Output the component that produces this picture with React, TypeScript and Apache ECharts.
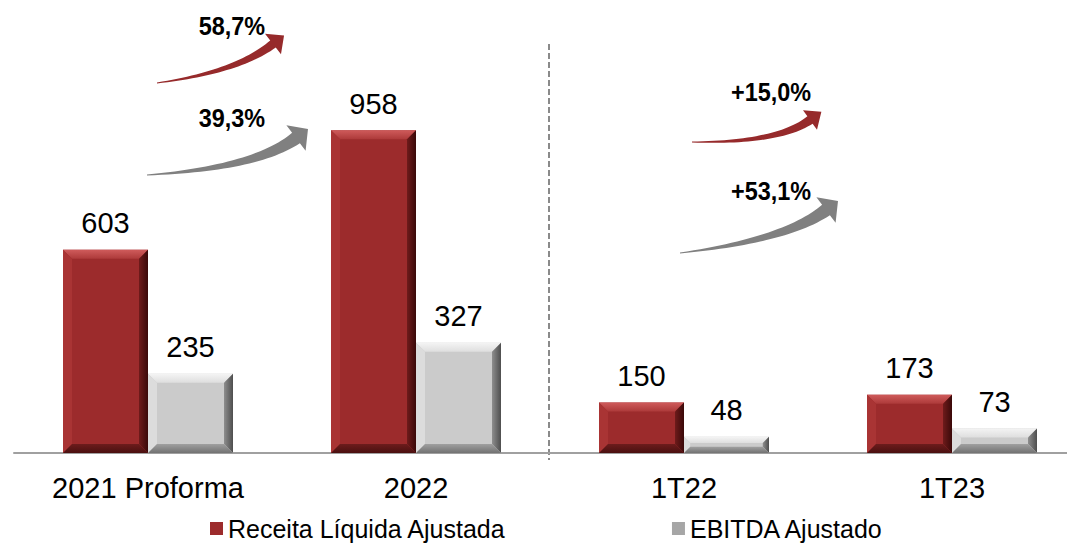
import React, { useEffect, useRef } from "react";
import * as echarts from "echarts";

const categories = ["2021 Proforma", "2022", "1T22", "1T23"];
const receita = [603, 958, 150, 173];
const ebitda = [235, 327, 48, 73];
const seriesNames = ["Receita Líquida Ajustada", "EBITDA Ajustado"];
const growthLabels = ["58,7%", "39,3%", "+15,0%", "+53,1%"];

const FONT = "'Liberation Sans', Arial, Helvetica, sans-serif";

type P = [number, number];

function lin(x2: number, y2: number, c0: string, c1: string) {
  return { type: "linear", x: 0, y: 0, x2, y2, colorStops: [{ offset: 0, color: c0 }, { offset: 1, color: c1 }], global: false };
}

const redPal = {
  face: "#9c2b2c",
  top: lin(0, 1, "#cf5b5b", "#ad3a3a"),
  left: "#a93434",
  right: lin(1, 0, "#6e1b1b", "#3a0909"),
  bottom: lin(0, 1, "#6d1c1c", "#4a1010"),
  legend: "#9c2b2c",
};
const greyPal = {
  face: "#cbcbcb",
  top: lin(0, 1, "#f4f4f4", "#dedede"),
  left: "#dcdcdc",
  right: lin(1, 0, "#8e8e8e", "#4e4e4e"),
  bottom: lin(0, 1, "#a0a0a0", "#727272"),
  legend: "#a6a6a6",
};

const BAR_W = 85;

function bevelRender(offset: number, pal: any) {
  return (params: any, api: any) => {
    const idx = api.value(0);
    const val = api.value(1);
    const base = api.coord([idx, 0]);
    const topPt = api.coord([idx, val]);
    const x = base[0] + offset;
    const w = BAR_W;
    const y0 = topPt[1];
    const y1 = base[1];
    const h = y1 - y0;
    const b = Math.min(9, h / 2.6, w / 2);
    return {
      type: "group",
      children: [
        { type: "rect", shape: { x, y: y0, width: w, height: h }, style: { fill: pal.face } },
        { type: "polygon", shape: { points: [[x, y0], [x + w, y0], [x + w - b, y0 + b], [x + b, y0 + b]] }, style: { fill: pal.top } },
        { type: "polygon", shape: { points: [[x, y0], [x + b, y0 + b], [x + b, y1 - b], [x, y1]] }, style: { fill: pal.left } },
        { type: "polygon", shape: { points: [[x + w, y0], [x + w, y1], [x + w - b, y1 - b], [x + w - b, y0 + b]] }, style: { fill: pal.right } },
        { type: "polygon", shape: { points: [[x, y1], [x + b, y1 - b], [x + w - b, y1 - b], [x + w, y1]] }, style: { fill: pal.bottom } },
        {
          type: "text",
          x: x + w / 2,
          y: y0 - 12,
          style: { text: String(val), align: "center", verticalAlign: "bottom", fontSize: 29, fontFamily: FONT, fill: "#000" },
        },
      ],
    };
  };
}

function arrowPoints(p0: P, c: P, p2: P, w0: number, w1: number, headLen: number, headHalf: number): P[] {
  const n = 30;
  const left: P[] = [];
  const right: P[] = [];
  for (let i = 0; i <= n; i++) {
    const t = i / n;
    const px = (1 - t) * (1 - t) * p0[0] + 2 * (1 - t) * t * c[0] + t * t * p2[0];
    const py = (1 - t) * (1 - t) * p0[1] + 2 * (1 - t) * t * c[1] + t * t * p2[1];
    let dx = 2 * (1 - t) * (c[0] - p0[0]) + 2 * t * (p2[0] - c[0]);
    let dy = 2 * (1 - t) * (c[1] - p0[1]) + 2 * t * (p2[1] - c[1]);
    const L = Math.hypot(dx, dy) || 1;
    dx /= L;
    dy /= L;
    const nx = -dy;
    const ny = dx;
    const hw = w0 + (w1 - w0) * t;
    left.push([px + nx * hw, py + ny * hw]);
    right.push([px - nx * hw, py - ny * hw]);
  }
  let dx = p2[0] - c[0];
  let dy = p2[1] - c[1];
  const L = Math.hypot(dx, dy);
  dx /= L;
  dy /= L;
  const nx = -dy;
  const ny = dx;
  const tip: P = [p2[0] + dx * headLen, p2[1] + dy * headLen];
  return [
    ...left,
    [p2[0] + nx * headHalf, p2[1] + ny * headHalf],
    tip,
    [p2[0] - nx * headHalf, p2[1] - ny * headHalf],
    ...right.reverse(),
  ];
}

export default function App() {
  const ref = useRef<HTMLDivElement>(null);
  useEffect(() => {
    if (!ref.current) return;
    const chart = echarts.init(ref.current, null, { renderer: "svg" });
    const red = "#962a2b";
    const grey = "#808080";
    const arrowText = (text: string, x: number, y: number) => ({
      type: "text",
      x,
      y,
      scaleX: 0.9,
      style: { text, align: "center", verticalAlign: "middle", fontSize: 26, fontWeight: "bold", fontFamily: FONT, fill: "#000" },
      z: 10,
    });
    chart.setOption({
      animation: false,
      grid: { left: 14, top: 15, width: 1072, height: 438, containLabel: false, outerBoundsMode: "none" },
      xAxis: {
        type: "category",
        data: categories,
        axisLine: { lineStyle: { color: "#a0a0a0", width: 2 } },
        axisTick: { show: false },
        axisLabel: { fontSize: 29, color: "#000", fontFamily: FONT, margin: 20 },
      },
      yAxis: { type: "value", min: 0, max: 1300, show: false, splitLine: { show: false } },
      legend: {
        left: 205,
        top: 511,
        itemGap: 166,
        itemWidth: 13,
        itemHeight: 13,
        icon: "rect",
        textStyle: { fontSize: 25, color: "#000", fontFamily: FONT },
        data: seriesNames,
      },
      series: [
        {
          type: "custom",
          name: seriesNames[0],
          itemStyle: { color: redPal.legend },
          renderItem: bevelRender(-BAR_W, redPal),
          encode: { x: 0, y: 1 },
          data: receita.map((v, i) => [i, v]),
        },
        {
          type: "custom",
          name: seriesNames[1],
          itemStyle: { color: greyPal.legend },
          renderItem: bevelRender(0, greyPal),
          encode: { x: 0, y: 1 },
          data: ebitda.map((v, i) => [i, v]),
        },
      ],
      graphic: [
        {
          type: "line",
          shape: { x1: 549, y1: 44, x2: 549, y2: 460 },
          style: { stroke: "#8a8a8a", lineWidth: 2, lineDash: [6, 3] },
        },
        { type: "polygon", shape: { points: arrowPoints([157, 83], [237, 72], [273, 44], 0.5, 4.5, 14, 13) }, style: { fill: red } },
        { type: "polygon", shape: { points: arrowPoints([147, 175], [256, 168], [296, 138], 0.5, 6.5, 15, 16) }, style: { fill: grey } },
        { type: "polygon", shape: { points: arrowPoints([692, 142], [778, 143], [810, 120], 0.5, 4.5, 14, 12) }, style: { fill: red } },
        { type: "polygon", shape: { points: arrowPoints([680, 253], [786, 240], [826, 210], 0.5, 6.5, 15, 16) }, style: { fill: grey } },
        arrowText(growthLabels[0], 232, 26),
        arrowText(growthLabels[1], 232, 118),
        arrowText(growthLabels[2], 771, 92),
        arrowText(growthLabels[3], 771, 191),
      ],
    });
    return () => chart.dispose();
  }, []);
  return <div ref={ref} style={{ position: "fixed", left: 0, top: 0, width: 1067, height: 544, background: "#fff" }} />;
}
